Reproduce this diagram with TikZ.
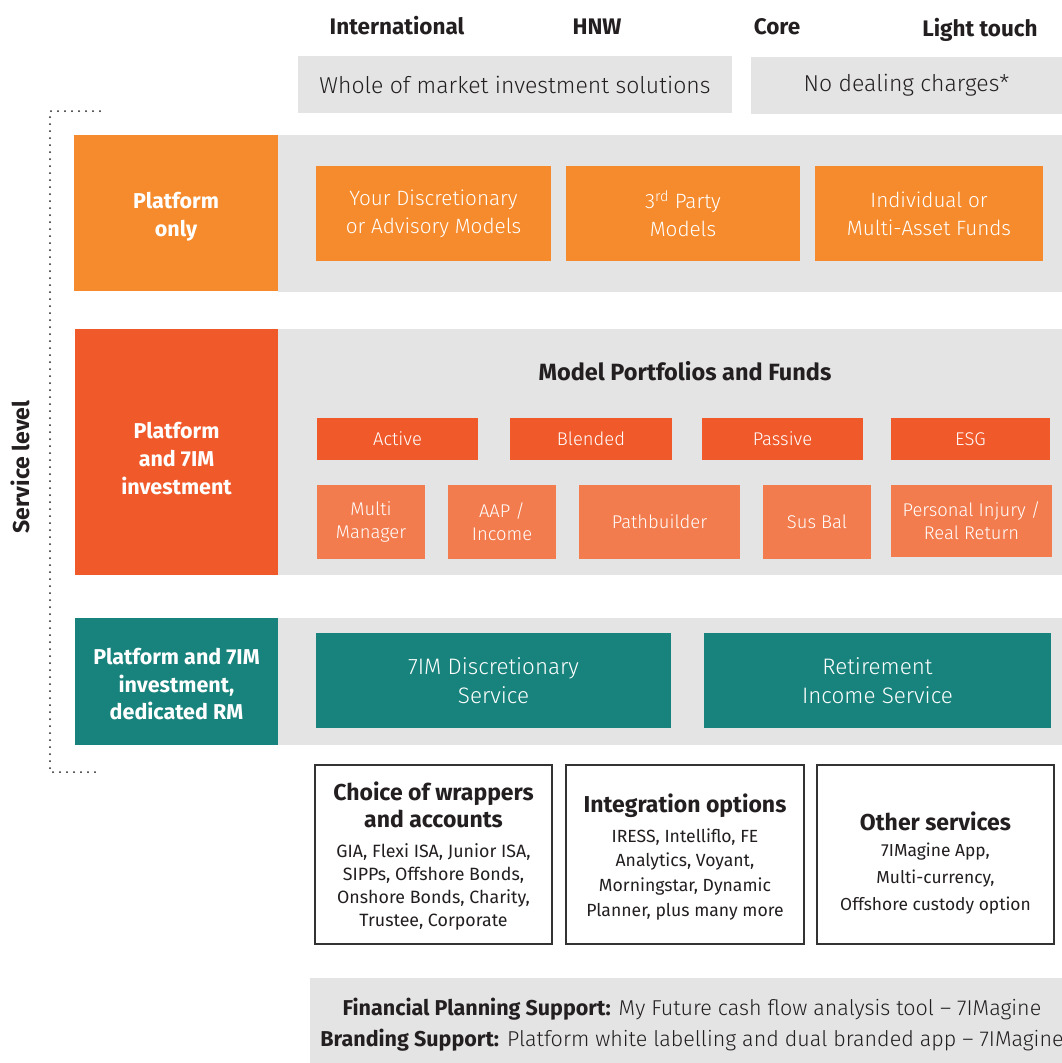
\documentclass[tikz,border=0pt]{standalone}
\usepackage{fontspec}
\setmainfont{Fira Sans Light}[BoldFont={Fira Sans Bold}]
\newfontfamily\regfont{Fira Sans}
\definecolor{cOrange}{HTML}{F58B2D}
\definecolor{cRed}{HTML}{F05A2B}
\definecolor{cLight}{HTML}{F37C4E}
\definecolor{cTeal}{HTML}{18837C}
\definecolor{cGrey}{HTML}{E4E4E4}
\definecolor{cDark}{HTML}{231F20}
\definecolor{cBorder}{HTML}{333333}
\newcommand{\BoxTitle}{\fontsize{23}{28}\selectfont\bfseries}
\begin{document}
\begin{tikzpicture}[x=1pt,y=-1pt,
  blk/.style={inner sep=0pt, outer sep=0pt, align=center},
  sz/.style 2 args={minimum width=#1pt, minimum height=#2pt},
  head/.style={inner sep=0pt, anchor=base, text=cDark, font=\fontsize{22.5}{26}\selectfont\bfseries},
  greytxt/.style={blk, fill=cGrey, text=cDark, font=\fontsize{23}{27}\selectfont},
  leftlbl/.style={blk, text=white, font=\fontsize{21.5}{28}\selectfont\bfseries},
  innerbox/.style={blk, text=white, font=\fontsize{20.7}{28}\selectfont},
  smallbox/.style={blk, text=white, font=\fontsize{18.4}{23}\selectfont},
  outline/.style={blk, draw=cBorder, line width=2pt, fill=white},
]
\useasboundingbox[fill=white] (0,0) rectangle (1062,1063);

% headers
\node[head] (h1) at (397,34) {International};
\node[head] (h2) at (597,34) {HNW};
\node[head] (h3) at (777,34) {Core};
\node[head] (h4) at (980,36) {Light touch};

\node[greytxt, sz={434}{57}] (g1) at (515,84.5) {Whole of market investment solutions};
\node[greytxt, sz={311}{57}] (g2) at (906.5,85) {No dealing charges*};

% dotted service bracket
\coordinate (d1) at (100,111);
\coordinate (d2) at (50,111);
\coordinate (d3) at (50,772);
\coordinate (d4) at (101,772);
\draw[cDark, line width=2pt, line cap=round, dash pattern=on 0pt off 7pt] (d1) -- (d2) -- (d3) -- (d4);
\node[rotate=90, text=cDark, font=\fontsize{23}{26}\selectfont\bfseries] (svc) at (20,467) {Service level};

% Row 1
\node[blk, fill=cGrey, sz={784}{157}] (r1bg) at (670,213.5) {};
\node[blk, fill=cOrange, sz={204}{156}] (r1l) at (176,213) {};
\node[leftlbl, yshift=-4pt] (r1lt) at (r1l.center) {Platform\\only};
\node[innerbox, fill=cOrange, sz={235}{95}] (r1a) at (433.5,213.5) {Your Discretionary\\or Advisory Models};
\node[innerbox, fill=cOrange, sz={234}{95}] (r1b) at (683,213.5) {3\textsuperscript{rd} Party\\Models};
\node[innerbox, fill=cOrange, sz={228}{95}] (r1c) at (929,213.5) {Individual or\\Multi-Asset Funds};

% Row 2
\node[blk, fill=cGrey, sz={784}{246}] (r2bg) at (670,452) {};
\node[blk, fill=cRed, sz={203}{246}] (r2l) at (176.5,452) {};
\node[leftlbl, yshift=-7pt] (r2lt) at (r2l.center) {Platform\\and 7IM\\investment};
\node[text=cDark, font=\fontsize{23.5}{27}\selectfont\bfseries] (r2t) at (685,371) {Model Portfolios and Funds};
\node[smallbox, fill=cRed, sz={161}{42}] (act) at (397.5,439) {Active};
\node[smallbox, fill=cRed, sz={162}{42}] (bld) at (591,439) {Blended};
\node[smallbox, fill=cRed, sz={161}{42}] (pas) at (782.5,439) {Passive};
\node[smallbox, fill=cRed, sz={159}{42}] (esg) at (970.5,439) {ESG};
\node[smallbox, fill=cLight, sz={108}{74}] (mm) at (371,522) {Multi\\Manager};
\node[smallbox, fill=cLight, sz={108}{74}] (aap) at (502,522) {AAP /\\Income};
\node[smallbox, fill=cLight, sz={161}{74}] (pb) at (659.5,522) {Pathbuilder};
\node[smallbox, fill=cLight, sz={108}{74}] (sb) at (817,522) {Sus Bal};
\node[smallbox, fill=cLight, sz={161}{72}] (pi) at (971.5,521) {Personal Injury /\\Real Return};

% Row 3
\node[blk, fill=cGrey, sz={784}{127}] (r3bg) at (670,681.5) {};
\node[blk, fill=cTeal, sz={203}{127}] (r3l) at (176.5,681.5) {};
\node[leftlbl, yshift=-3pt, font=\fontsize{21.5}{27.5}\selectfont\bfseries] (r3lt) at (r3l.center) {Platform and 7IM\\investment,\\dedicated RM};
\node[innerbox, fill=cTeal, sz={355}{95}, font=\fontsize{22.4}{29}\selectfont] (ds) at (493.5,680.5) {7IM Discretionary\\Service};
\node[innerbox, fill=cTeal, sz={347}{95}, font=\fontsize{22.4}{29}\selectfont] (ris) at (877.5,680.5) {Retirement\\Income Service};

% bottom boxes
\node[outline, sz={237}{179}] (b1) at (433.5,854.5) {};
\node[outline, sz={238}{179}] (b2) at (685,854.5) {};
\node[outline, sz={237}{179}] (b3) at (935.5,854.5) {};
\node[blk, text=cDark, font=\regfont\fontsize{17.8}{23}\selectfont] (b1t) at (433.5,856)
  {{\BoxTitle Choice of wrappers}\\[4pt]{\BoxTitle and accounts}\\[7pt]GIA, Flexi ISA, Junior ISA,\\SIPPs, Offshore Bonds,\\Onshore Bonds, Charity,\\Trustee, Corporate};
\node[blk, text=cDark, font=\regfont\fontsize{17.6}{24.7}\selectfont] (b2t) at (685,857)
  {{\BoxTitle Integration options}\\[5pt]IRESS, Intelliflo, FE\\Analytics, Voyant,\\Morningstar, Dynamic\\Planner, plus many more};
\node[blk, text=cDark, font=\regfont\fontsize{17.4}{27}\selectfont] (b3t) at (935.5,863)
  {{\BoxTitle Other services}\\[-1pt]7IMagine App,\\Multi-currency,\\Offshore custody option};

% bottom grey
\node[blk, fill=cGrey, sz={752}{85}, text=cDark, font=\fontsize{21.5}{31}\selectfont] (fb) at (686,1020.5) {};
\node[blk, text=cDark, font=\fontsize{21.5}{31}\selectfont] (fbt) at (692,1025)
  {\textbf{Financial Planning Support:} My Future cash flow analysis tool – 7IMagine\\
   \textbf{Branding Support:} Platform white labelling and dual branded app – 7IMagine};
\end{tikzpicture}
\end{document}
